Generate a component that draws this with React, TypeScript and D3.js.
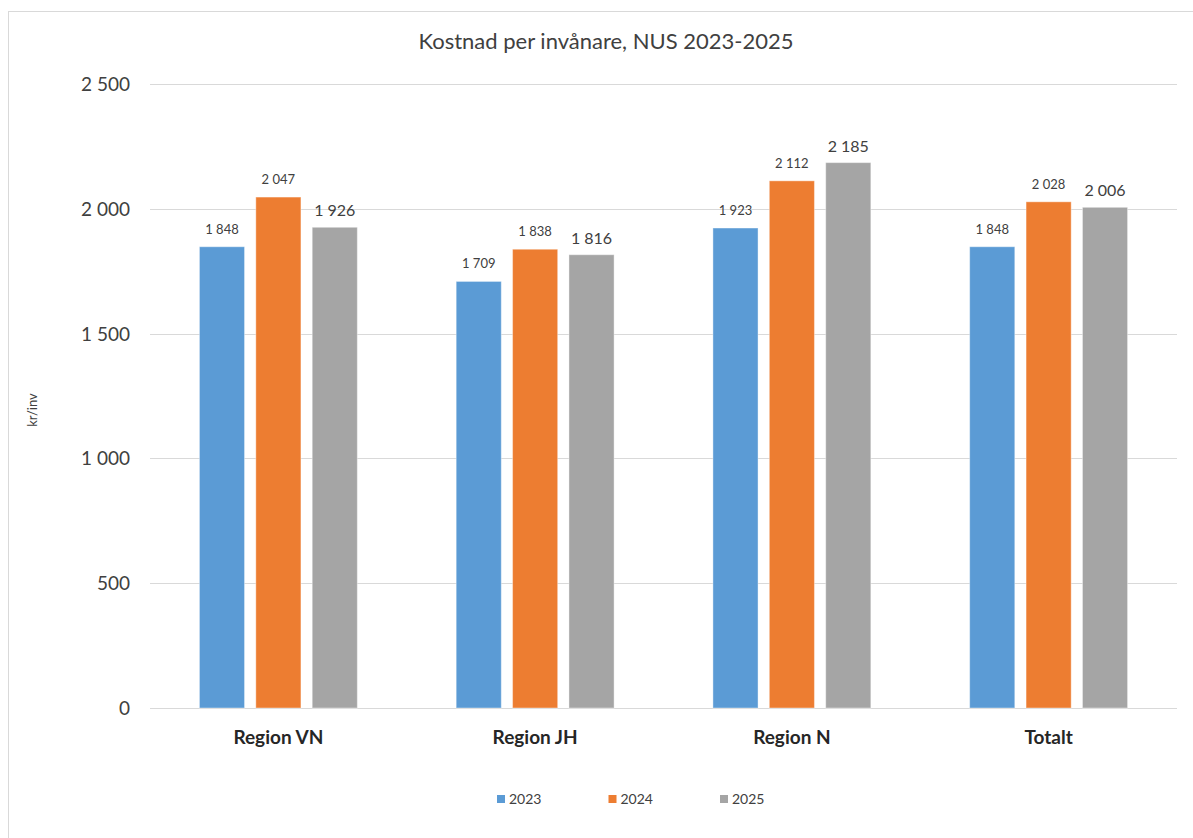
import React from 'react';
import * as d3 from 'd3';

const categories = ['Region VN', 'Region JH', 'Region N', 'Totalt'];
const years = ['2023', '2024', '2025'];
const values2023 = [1848, 1709, 1923, 1848];
const values2024 = [2047, 1838, 2112, 2028];
const values2025 = [1926, 1816, 2185, 2006];
const yTicks = [0, 500, 1000, 1500, 2000, 2500];
const colors = ['#5B9BD5', '#ED7D31', '#A5A5A5'];

const series = [values2023, values2024, values2025];
const fmt = (v: number) => d3.format(',')(v).replace(/,/g, ' ');

const FONT = 'Lato, "Open Sans", sans-serif';

const App = () => {
  const width = 1193;
  const height = 838;
  const left = 150, right = 1177, top = 84, bottom = 708;

  const x0 = d3.scaleBand().domain(categories).range([left, right]).paddingInner(0.385).paddingOuter(0.1925);
  const x1 = d3.scaleBand().domain(years).range([0, x0.bandwidth()]).paddingInner(0.2).paddingOuter(0);
  const y = d3.scaleLinear().domain([0, 2500]).range([bottom, top]);

  const legendX = d3.scalePoint().domain(years).range([497, 720]);

  return (
    <svg width={width} height={height} style={{ position: 'absolute', left: 0, top: 0, background: '#fff' }}>
      <rect x={8.5} y={11.5} width={1200} height={900} fill="#fff" stroke="#d9d9d9" />
      <text x={606} y={49} textAnchor="middle" fontFamily={FONT} fontSize={22} fill="#404040">
        Kostnad per invånare, NUS 2023-2025
      </text>
      {yTicks.map(t => (
        <g key={t}>
          <line x1={left} x2={right} y1={Math.round(y(t)) + 0.5} y2={Math.round(y(t)) + 0.5} stroke="#d9d9d9" strokeWidth={1} />
          <text x={130} y={y(t) + 7} textAnchor="end" fontFamily={FONT} fontSize={19} fill="#404040">
            {fmt(t)}
          </text>
        </g>
      ))}
      <text transform="translate(37,410) rotate(-90)" textAnchor="middle" fontFamily={FONT} fontSize={13} fill="#404040">
        kr/inv
      </text>
      {categories.map((c, ci) => (
        <g key={c} transform={`translate(${x0(c)},0)`}>
          {years.map((yr, si) => {
            const v = series[si][ci];
            const bx = x1(yr)!;
            const big = si === 2;
            return (
              <g key={yr}>
                <rect x={bx} y={y(v)} width={x1.bandwidth()} height={bottom - y(v)} fill={colors[si]} stroke="#ffffff" strokeOpacity={0.4} strokeWidth={1} />
                <text x={bx + x1.bandwidth() / 2} y={y(v) - (big ? 11 : 13)} textAnchor="middle" fontFamily={FONT}
                  fontSize={big ? 16 : 13} fill="#404040">
                  {fmt(v)}
                </text>
              </g>
            );
          })}
          <text x={x0.bandwidth() / 2} y={744} textAnchor="middle" fontFamily={FONT} fontSize={19} fontWeight="bold" fill="#262626">
            {c}
          </text>
        </g>
      ))}
      {years.map((yr, si) => (
        <g key={yr} transform={`translate(${legendX(yr)},0)`}>
          <rect x={0} y={795} width={8} height={8} fill={colors[si]} />
          <text x={12} y={804} fontFamily={FONT} fontSize={14} fill="#404040">{yr}</text>
        </g>
      ))}
    </svg>
  );
};

export default App;
